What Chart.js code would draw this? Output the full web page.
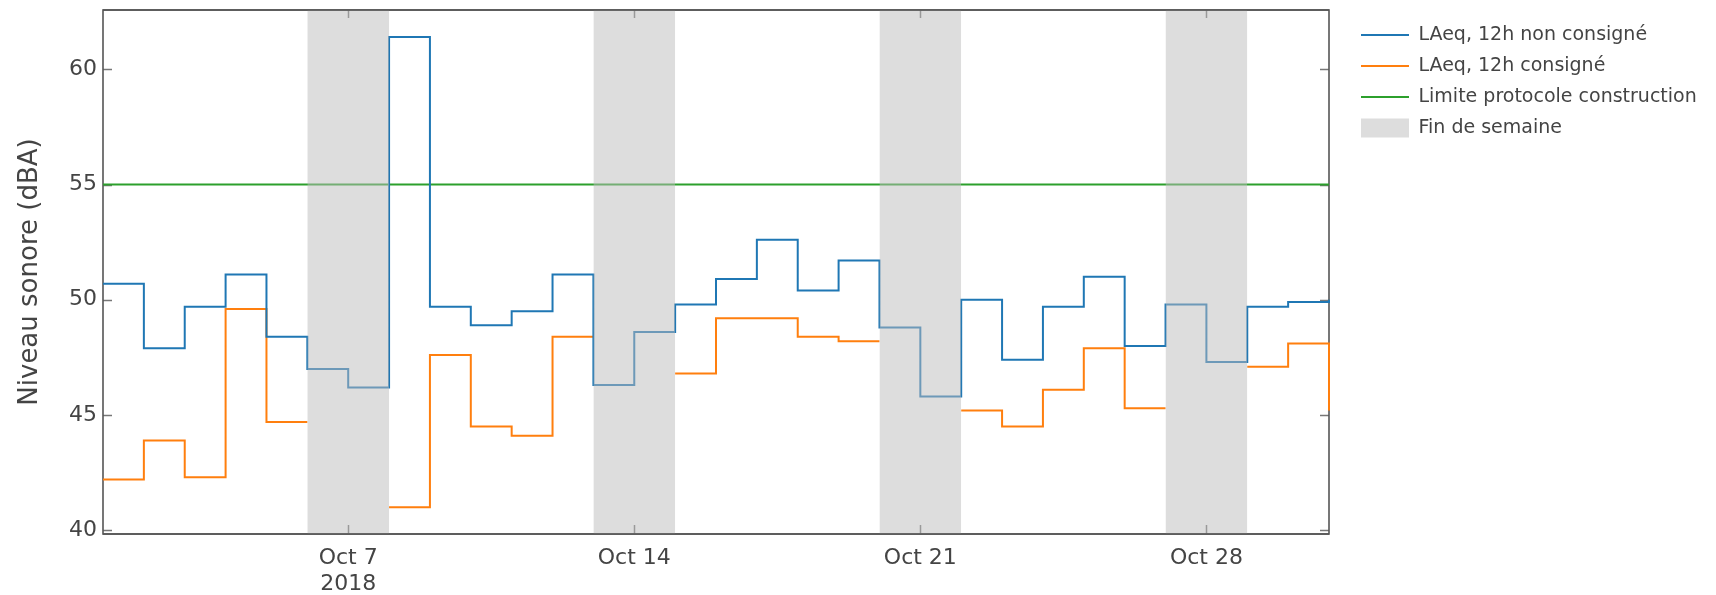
<!DOCTYPE html>
<html>
<head>
<meta charset="utf-8">
<script src="https://cdn.jsdelivr.net/npm/chart.js@4.4.1/dist/chart.umd.min.js"></script>
<style>
  html, body { margin: 0; padding: 0; background: #ffffff; }
  #wrap { width: 1716px; height: 595px; position: relative; }
</style>
</head>
<body>
<div id="wrap"><canvas id="c" width="1716" height="595"></canvas></div>
<script>
// ---- Data (day of October 2018) ----
const days = [1,2,3,4,5,6,7,8,9,10,11,12,13,14,15,16,17,18,19,20,21,22,23,24,25,26,27,28,29,30,31];
const laeqNonConsigne = [50.7,47.9,49.7,51.1,48.4,47.0,46.2,61.4,49.7,48.9,49.5,51.1,46.3,48.6,49.8,50.9,52.6,50.4,51.7,48.8,45.8,50.0,47.4,49.7,51.0,48.0,49.8,47.3,49.7,49.9,50.0];
const laeqConsigne    = [42.2,43.9,42.3,49.6,44.7,null,null,41.0,47.6,44.5,44.1,48.4,null,null,46.8,49.2,49.2,48.4,48.2,null,null,45.2,44.5,46.1,47.9,45.3,null,null,47.1,48.1,45.2];
const limiteProtocole = 55;
const weekendStarts = [6,13,20,27];   // Saturdays
const weekendLength = 2;              // Saturday + Sunday
const xTickValues = [7,14,21,28];
const xTickLabels = [['Oct 7','2018'],'Oct 14','Oct 21','Oct 28'];
const yTickValues = [40,45,50,55,60];
const seriesNames = ['LAeq, 12h non consigné','LAeq, 12h consigné','Limite protocole construction','Fin de semaine'];
const yAxisTitle = 'Niveau sonore (dBA)';

const X_MIN = 1, X_MAX = 31, Y_MIN = 39.84, Y_MAX = 62.57;
const FONT = "'DejaVu Sans', Verdana, sans-serif";
const TEXT = '#444444';

// daily values held for the whole day (step), gaps where no value
function stepPoints(vals) {
  const pts = [];
  for (let i = 0; i < vals.length; i++) {
    if (vals[i] === null) continue;
    pts.push({x: days[i], y: vals[i]});
    const next = i + 1 < vals.length ? vals[i + 1] : null;
    if (next === null) {
      pts.push({x: days[i] + 1, y: vals[i]});
      pts.push({x: days[i] + 1, y: null});
    }
  }
  return pts;
}
function weekendPoints() {
  const pts = [];
  weekendStarts.forEach(s => {
    pts.push({x: s, y: Y_MAX});
    pts.push({x: s + weekendLength, y: Y_MAX});
    pts.push({x: s + weekendLength, y: null});
  });
  return pts;
}

Chart.defaults.font.family = FONT;
Chart.defaults.color = TEXT;

const LEG_FONT = 19, LEG_PAD = 12, LEG_BOX = 48;
const mctx = document.createElement('canvas').getContext('2d');
mctx.font = LEG_FONT + 'px ' + FONT;
const maxText = Math.max(...seriesNames.map(s => mctx.measureText(s).width));
const legendWidth = 2 * LEG_PAD + LEG_BOX + LEG_FONT / 2 + maxText;
const RIGHT_GAP = 20;
const padRight = Math.max(0, 1716 - 1327 - RIGHT_GAP - legendWidth);

const framePlugin = {
  id: 'frame',
  beforeDatasetsDraw(chart) {
    const {ctx, chartArea: a, scales: {x, y}} = chart;
    ctx.save();
    ctx.strokeStyle = '#777777';
    ctx.lineWidth = 1.5;
    ctx.beginPath();
    x.ticks.forEach(t => {
      const px = Math.round(x.getPixelForValue(t.value)) + 0.5;
      ctx.moveTo(px, a.bottom); ctx.lineTo(px, a.bottom - 9);
      ctx.moveTo(px, a.top); ctx.lineTo(px, a.top + 8);
    });
    y.ticks.forEach(t => {
      const py = Math.round(y.getPixelForValue(t.value)) + 0.5;
      ctx.moveTo(a.left, py); ctx.lineTo(a.left + 9, py);
      ctx.moveTo(a.right, py); ctx.lineTo(a.right - 9, py);
    });
    ctx.stroke();
    ctx.strokeStyle = '#555555';
    ctx.lineWidth = 1.6;
    ctx.strokeRect(a.left, a.top, a.right - a.left, a.bottom - a.top);
    ctx.restore();
  },
  afterDatasetsDraw(chart) {
    const {ctx, chartArea: a} = chart;
    ctx.save();
    ctx.strokeStyle = '#555555';
    ctx.lineWidth = 1.6;
    ctx.beginPath();
    ctx.moveTo(a.left, a.top); ctx.lineTo(a.right, a.top);
    ctx.moveTo(a.left, a.bottom); ctx.lineTo(a.right, a.bottom);
    ctx.stroke();
    ctx.restore();
  }
};

function zeroPad(scale) {
  scale.paddingTop = 0; scale.paddingBottom = 0;
  scale.paddingLeft = 0; scale.paddingRight = 0;
}

new Chart(document.getElementById('c'), {
  type: 'line',
  data: {
    datasets: [
      {
        label: seriesNames[0],
        data: stepPoints(laeqNonConsigne),
        borderColor: '#1f77b4', backgroundColor: '#1f77b4',
        borderWidth: 2, stepped: true, pointRadius: 0, pointStyle: 'line',
        spanGaps: false, fill: false, order: 1, clip: 1
      },
      {
        label: seriesNames[1],
        data: stepPoints(laeqConsigne),
        borderColor: '#ff7f0e', backgroundColor: '#ff7f0e',
        borderWidth: 2, stepped: true, pointRadius: 0, pointStyle: 'line',
        spanGaps: false, fill: false, order: 1, clip: 1
      },
      {
        label: seriesNames[2],
        data: [{x: X_MIN, y: limiteProtocole}, {x: X_MAX, y: limiteProtocole}],
        borderColor: '#2ca02c', backgroundColor: '#2ca02c',
        borderWidth: 2, pointRadius: 0, pointStyle: 'line', fill: false, order: 1
      },
      {
        label: seriesNames[3],
        data: weekendPoints(),
        borderColor: 'rgba(0,0,0,0)', backgroundColor: 'rgba(187,187,187,0.5)',
        borderWidth: 0, pointRadius: 0, pointStyle: 'rect',
        spanGaps: false, fill: 'start', order: -1
      }
    ]
  },
  options: {
    responsive: false,
    animation: false,
    devicePixelRatio: 1,
    events: [],
    layout: { padding: { top: 10, left: 0, bottom: 0, right: padRight } },
    scales: {
      x: {
        type: 'linear', min: X_MIN, max: X_MAX,
        afterBuildTicks: s => { s.ticks = xTickValues.map(v => ({value: v})); },
        afterFit: s => { s.height = 61; zeroPad(s); },
        ticks: {
          autoSkip: false, maxRotation: 0, minRotation: 0,
          font: {size: 22, family: FONT}, color: TEXT, padding: 11,
          callback: (v, i) => xTickLabels[i]
        },
        grid: { display: false, drawTicks: false },
        border: { display: false }
      },
      y: {
        type: 'linear', min: Y_MIN, max: Y_MAX, position: 'left',
        afterBuildTicks: s => { s.ticks = yTickValues.map(v => ({value: v})); },
        afterFit: s => { s.width = 103; zeroPad(s); },
        ticks: { font: {size: 22, family: FONT}, color: TEXT, padding: 6 },
        grid: { display: false, drawTicks: false },
        border: { display: false },
        title: {
          display: true, text: yAxisTitle, color: TEXT,
          font: {size: 26, family: FONT}, padding: {top: 14.5, bottom: 0}
        }
      },
      y2: {
        type: 'linear', min: Y_MIN, max: Y_MAX, position: 'right',
        afterFit: s => { s.width = RIGHT_GAP; zeroPad(s); },
        ticks: { display: false },
        grid: { display: false, drawTicks: false },
        border: { display: false }
      }
    },
    plugins: {
      tooltip: { enabled: false },
      legend: {
        position: 'right', align: 'start', maxWidth: 600,
        title: { display: true, text: '', font: {size: 1, lineHeight: 1}, padding: {top: 0, bottom: 2.5} },
        labels: {
          usePointStyle: true, pointStyleWidth: LEG_BOX, boxHeight: LEG_FONT,
          font: {size: LEG_FONT, family: FONT}, color: TEXT, padding: LEG_PAD,
          sort: (a, b) => a.datasetIndex - b.datasetIndex
        }
      }
    }
  },
  plugins: [framePlugin]
});
</script>
</body>
</html>
